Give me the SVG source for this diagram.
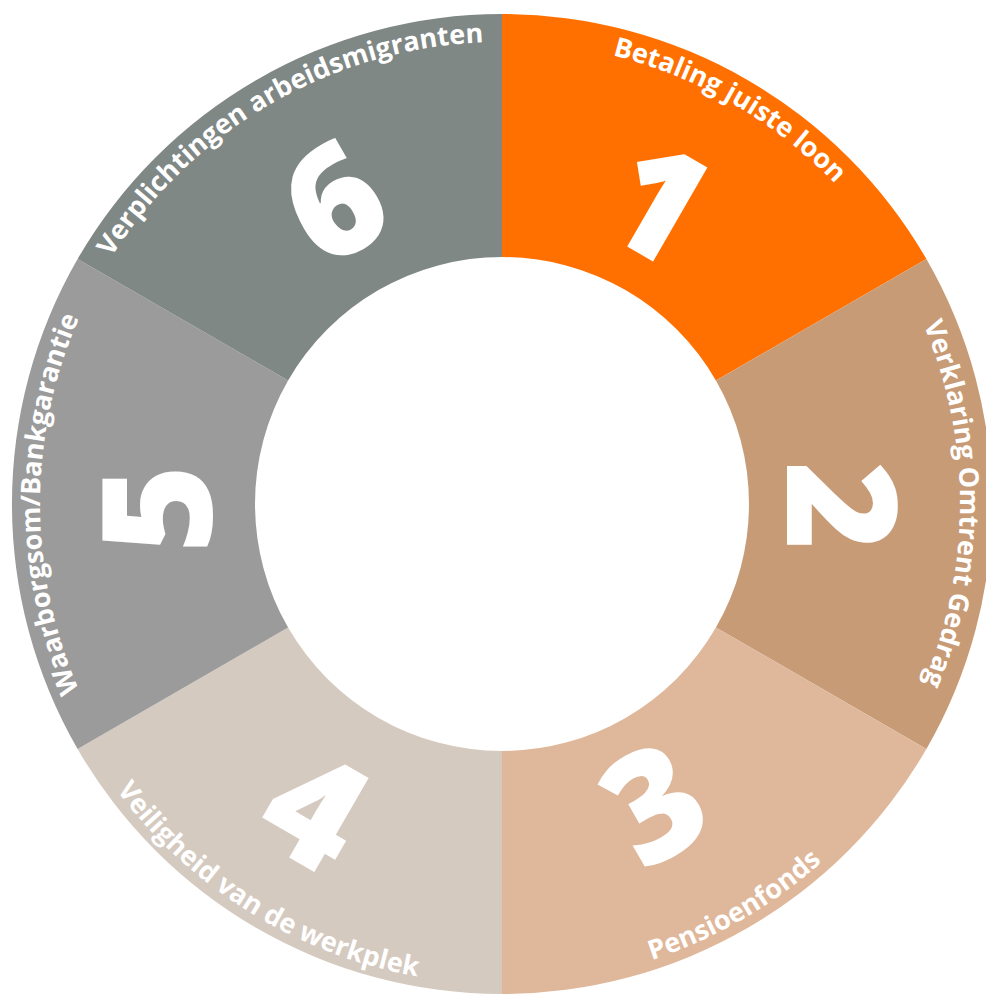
<svg xmlns="http://www.w3.org/2000/svg" xmlns:xlink="http://www.w3.org/1999/xlink" width="986" height="994" viewBox="0 0 986 994">
<style>
.lbl{font-family:"Open Sans","Noto Sans","Liberation Sans",sans-serif;font-weight:700;font-size:27px;fill:#ffffff}
.num{font-family:"Open Sans","Noto Sans","Liberation Sans",sans-serif;font-weight:800;font-size:152px;fill:#ffffff}
</style>
<defs>
<path id="a1" d="M502,42 A462,462 0 0 1 902.1,273"/>
<path id="a2" d="M898.6,275 A458,458 0 0 1 898.6,733"/>
<path id="a6" d="M101.9,273 A462,462 0 0 1 502,42"/>
<path id="a5" d="M101.9,735 A462,462 0 0 1 101.9,273"/>
<path id="a3" d="M502,984 A480,480 0 0 0 917.7,744"/>
<path id="a4" d="M86.3,744 A480,480 0 0 0 502,984"/>
</defs>
<rect width="986" height="994" fill="#ffffff"/>
<g id="seg1">
<path d="M502,14 A490,490 0 0 1 926.4,259 L715.9,380.5 A247,247 0 0 0 502,257 Z" fill="#ff7000"/>
<text class="lbl"><textPath xlink:href="#a1" href="#a1" startOffset="50%" text-anchor="middle">Betaling juiste loon</textPath></text>
<text class="num" transform="translate(658,202) rotate(30)" x="0" y="54" text-anchor="middle">1</text>
</g>
<g id="seg2">
<path d="M926.4,259 A490,490 0 0 1 926.4,749 L715.9,627.5 A247,247 0 0 0 715.9,380.5 Z" fill="#c89b77"/>
<text class="lbl"><textPath xlink:href="#a2" href="#a2" startOffset="50%" text-anchor="middle">Verklaring Omtrent Gedrag</textPath></text>
<text class="num" transform="translate(841,506) rotate(90)" x="0" y="54" text-anchor="middle">2</text>
</g>
<g id="seg3">
<path d="M926.4,749 A490,490 0 0 1 502,994 L502,751 A247,247 0 0 0 715.9,627.5 Z" fill="#dfb89b"/>
<text class="lbl"><textPath xlink:href="#a3" href="#a3" startOffset="50%" text-anchor="middle">Pensioenfonds</textPath></text>
<text class="num" transform="translate(654,804) rotate(-30)" x="0" y="54" text-anchor="middle">3</text>
</g>
<g id="seg4">
<path d="M502,994 A490,490 0 0 1 77.6,749 L288.1,627.5 A247,247 0 0 0 502,751 Z" fill="#d5cac0"/>
<text class="lbl"><textPath xlink:href="#a4" href="#a4" startOffset="47%" text-anchor="middle">Veiligheid van de werkplek</textPath></text>
<text class="num" transform="translate(315,810) rotate(30)" x="0" y="54" text-anchor="middle">4</text>
</g>
<g id="seg5">
<path d="M77.6,749 A490,490 0 0 1 77.6,259 L288.1,380.5 A247,247 0 0 0 288.1,627.5 Z" fill="#9b9b9b"/>
<text class="lbl"><textPath xlink:href="#a5" href="#a5" startOffset="50%" text-anchor="middle">Waarborgsom/Bankgarantie</textPath></text>
<text class="num" transform="translate(158,509) rotate(-90)" x="0" y="54" text-anchor="middle">5</text>
</g>
<g id="seg6">
<path d="M77.6,259 A490,490 0 0 1 502,14 L502,257 A247,247 0 0 0 288.1,380.5 Z" fill="#808886"/>
<text class="lbl"><textPath xlink:href="#a6" href="#a6" startOffset="50%" text-anchor="middle">Verplichtingen arbeidsmigranten</textPath></text>
<text class="num" transform="translate(334,202) rotate(-30)" x="0" y="54" text-anchor="middle">6</text>
</g>
</svg>
